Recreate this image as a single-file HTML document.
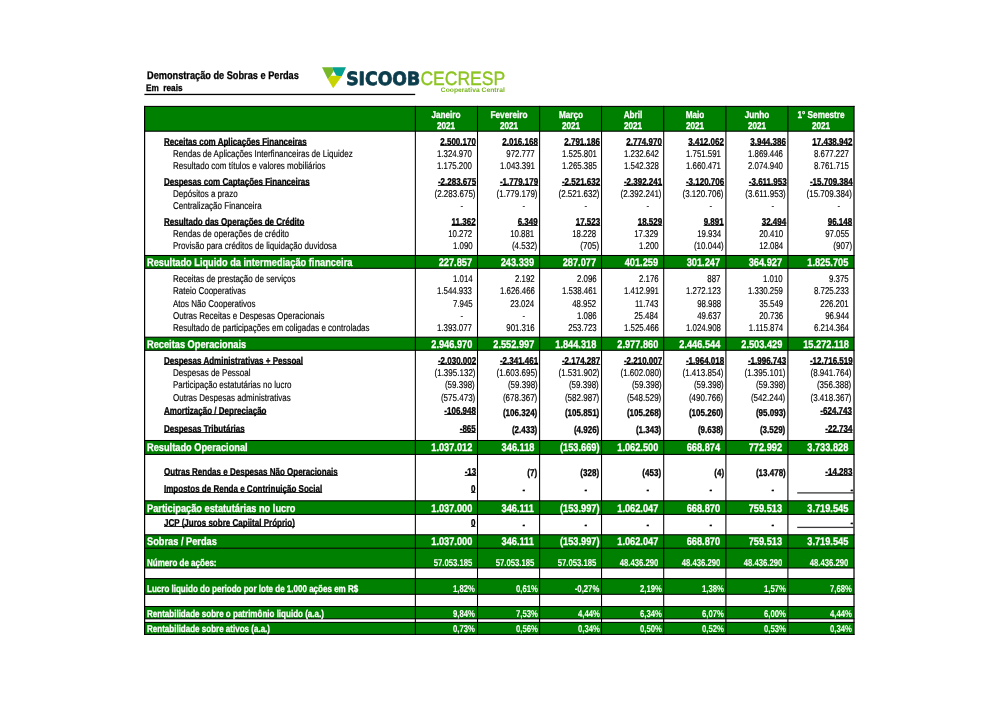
<!DOCTYPE html>
<html lang="pt-BR"><head><meta charset="utf-8"><title>Demonstração de Sobras e Perdas</title>
<style>
html,body{margin:0;padding:0;background:#fff}
body{width:1000px;height:707px;position:relative;overflow:hidden;font-family:"Liberation Sans",sans-serif;color:#000;text-rendering:geometricPrecision}
.b{position:absolute}
.t{position:absolute;white-space:nowrap;display:block;-webkit-text-stroke:0.15px currentColor}
.l{transform-origin:0 50%}
.r{transform-origin:100% 50%}
.c{transform-origin:50% 50%;text-align:center}
.bd{font-weight:bold;-webkit-text-stroke:0.3px currentColor}
.w{color:#fff}
.ns{-webkit-text-stroke:0.1px currentColor}
.u{text-decoration:underline;text-decoration-skip-ink:none;text-underline-offset:0px;text-decoration-thickness:1px;text-decoration-color:#2a2a2a}
</style></head><body>
<svg class="b" style="left:0;top:0" width="1000" height="707" viewBox="0 0 1000 707"><rect x="144.6" y="106.4" width="709.4" height="24.799999999999983" fill="#008000"/><rect x="144.6" y="255.5" width="709.4" height="12.800000000000011" fill="#008000"/><rect x="144.6" y="337.2" width="709.4" height="13.100000000000023" fill="#008000"/><rect x="144.6" y="440.5" width="709.4" height="13.899999999999977" fill="#008000"/><rect x="144.6" y="500.8" width="709.4" height="13.599999999999966" fill="#008000"/><rect x="144.6" y="534.8" width="709.4" height="13.400000000000091" fill="#008000"/><rect x="144.6" y="548.2" width="709.4" height="19.799999999999955" fill="#008000"/><rect x="144.6" y="578.6" width="709.4" height="15.699999999999932" fill="#008000"/><rect x="144.6" y="606.5" width="709.4" height="12.299999999999955" fill="#008000"/><rect x="144.6" y="622.4" width="709.4" height="12.0" fill="#008000"/><rect x="144.075" y="105.88" width="710.4499999999999" height="1.05" fill="#000"/><rect x="144.075" y="130.67" width="710.4499999999999" height="1.05" fill="#000"/><rect x="144.075" y="254.97" width="710.4499999999999" height="1.05" fill="#000"/><rect x="144.075" y="267.78" width="710.4499999999999" height="1.05" fill="#000"/><rect x="144.075" y="336.68" width="710.4499999999999" height="1.05" fill="#000"/><rect x="144.075" y="349.78" width="710.4499999999999" height="1.05" fill="#000"/><rect x="144.075" y="439.98" width="710.4499999999999" height="1.05" fill="#000"/><rect x="144.075" y="453.88" width="710.4499999999999" height="1.05" fill="#000"/><rect x="144.075" y="500.28" width="710.4499999999999" height="1.05" fill="#000"/><rect x="144.075" y="513.88" width="710.4499999999999" height="1.05" fill="#000"/><rect x="144.075" y="534.27" width="710.4499999999999" height="1.05" fill="#000"/><rect x="144.075" y="547.68" width="710.4499999999999" height="1.05" fill="#000"/><rect x="144.075" y="567.48" width="710.4499999999999" height="1.05" fill="#000"/><rect x="144.075" y="578.08" width="710.4499999999999" height="1.05" fill="#000"/><rect x="144.075" y="593.77" width="710.4499999999999" height="1.05" fill="#000"/><rect x="144.075" y="605.98" width="710.4499999999999" height="1.05" fill="#000"/><rect x="144.075" y="618.27" width="710.4499999999999" height="1.05" fill="#000"/><rect x="144.075" y="621.88" width="710.4499999999999" height="1.05" fill="#000"/><rect x="144.075" y="633.88" width="710.4499999999999" height="1.05" fill="#000"/><rect x="144.00" y="105.88" width="1.2" height="529.05" fill="#000"/><rect x="414.83" y="105.88" width="1.05" height="529.05" fill="#000"/><rect x="476.98" y="105.88" width="1.05" height="529.05" fill="#000"/><rect x="539.08" y="105.88" width="1.05" height="529.05" fill="#000"/><rect x="601.02" y="105.88" width="1.05" height="529.05" fill="#000"/><rect x="663.18" y="105.88" width="1.05" height="529.05" fill="#000"/><rect x="725.38" y="105.88" width="1.05" height="529.05" fill="#000"/><rect x="787.38" y="105.88" width="1.05" height="529.05" fill="#000"/><rect x="853.40" y="105.88" width="1.2" height="529.05" fill="#000"/></svg>
<span class="t l bd" style="left:147px;top:69.75px;font-size:11.1px;line-height:13px;transform:scaleX(0.829)">Demonstração de Sobras e Perdas</span>
<span class="t l bd" style="left:146px;top:82.81px;font-size:9.5px;line-height:12px;transform:scaleX(0.865)">Em&nbsp; reais</span>
<svg class="b" style="left:0;top:90px" width="1000" height="8" viewBox="0 90 1000 8"><rect x="144.4" y="93.8" width="270.8" height="1.3" fill="#000"/></svg>
<span class="t c bd w" style="left:346.425px;width:200px;top:109.67px;font-size:9.9px;line-height:12px;transform:scaleX(0.83)">Janeiro</span>
<span class="t c bd w" style="left:346.425px;width:200px;top:121.47px;font-size:9.9px;line-height:12px;transform:scaleX(0.83)">2021</span>
<span class="t c bd w" style="left:408.55px;width:200px;top:109.67px;font-size:9.9px;line-height:12px;transform:scaleX(0.83)">Fevereiro</span>
<span class="t c bd w" style="left:408.55px;width:200px;top:121.47px;font-size:9.9px;line-height:12px;transform:scaleX(0.83)">2021</span>
<span class="t c bd w" style="left:470.57500000000005px;width:200px;top:109.67px;font-size:9.9px;line-height:12px;transform:scaleX(0.83)">Março</span>
<span class="t c bd w" style="left:470.57500000000005px;width:200px;top:121.47px;font-size:9.9px;line-height:12px;transform:scaleX(0.83)">2021</span>
<span class="t c bd w" style="left:532.625px;width:200px;top:109.67px;font-size:9.9px;line-height:12px;transform:scaleX(0.83)">Abril</span>
<span class="t c bd w" style="left:532.625px;width:200px;top:121.47px;font-size:9.9px;line-height:12px;transform:scaleX(0.83)">2021</span>
<span class="t c bd w" style="left:594.8px;width:200px;top:109.67px;font-size:9.9px;line-height:12px;transform:scaleX(0.83)">Maio</span>
<span class="t c bd w" style="left:594.8px;width:200px;top:121.47px;font-size:9.9px;line-height:12px;transform:scaleX(0.83)">2021</span>
<span class="t c bd w" style="left:656.9px;width:200px;top:109.67px;font-size:9.9px;line-height:12px;transform:scaleX(0.83)">Junho</span>
<span class="t c bd w" style="left:656.9px;width:200px;top:121.47px;font-size:9.9px;line-height:12px;transform:scaleX(0.83)">2021</span>
<span class="t c bd w" style="left:720.95px;width:200px;top:109.67px;font-size:9.9px;line-height:12px;transform:scaleX(0.83)">1° Semestre</span>
<span class="t c bd w" style="left:720.95px;width:200px;top:121.47px;font-size:9.9px;line-height:12px;transform:scaleX(0.83)">2021</span>
<span class="t l bd w" style="left:147.2px;top:257.15px;font-size:11.1px;line-height:13px;transform:scaleX(0.833)">Resultado Liquido da intermediação financeira</span>
<span class="t r bd w" style="right:528.00px;top:257.15px;font-size:11.1px;line-height:13px;transform:scaleX(0.833)">227.857</span>
<span class="t r bd w" style="right:465.90px;top:257.15px;font-size:11.1px;line-height:13px;transform:scaleX(0.833)">243.339</span>
<span class="t r bd w" style="right:403.95px;top:257.15px;font-size:11.1px;line-height:13px;transform:scaleX(0.833)">287.077</span>
<span class="t r bd w" style="right:341.80px;top:257.15px;font-size:11.1px;line-height:13px;transform:scaleX(0.833)">401.259</span>
<span class="t r bd w" style="right:279.60px;top:257.15px;font-size:11.1px;line-height:13px;transform:scaleX(0.833)">301.247</span>
<span class="t r bd w" style="right:217.60px;top:257.15px;font-size:11.1px;line-height:13px;transform:scaleX(0.833)">364.927</span>
<span class="t r bd w" style="right:151.50px;top:257.15px;font-size:11.1px;line-height:13px;transform:scaleX(0.833)">1.825.705</span>
<span class="t l bd w" style="left:147.2px;top:339.15px;font-size:11.1px;line-height:13px;transform:scaleX(0.833)">Receitas Operacionais</span>
<span class="t r bd w" style="right:528.00px;top:339.15px;font-size:11.1px;line-height:13px;transform:scaleX(0.833)">2.946.970</span>
<span class="t r bd w" style="right:465.90px;top:339.15px;font-size:11.1px;line-height:13px;transform:scaleX(0.833)">2.552.997</span>
<span class="t r bd w" style="right:403.95px;top:339.15px;font-size:11.1px;line-height:13px;transform:scaleX(0.833)">1.844.318</span>
<span class="t r bd w" style="right:341.80px;top:339.15px;font-size:11.1px;line-height:13px;transform:scaleX(0.833)">2.977.860</span>
<span class="t r bd w" style="right:279.60px;top:339.15px;font-size:11.1px;line-height:13px;transform:scaleX(0.833)">2.446.544</span>
<span class="t r bd w" style="right:217.60px;top:339.15px;font-size:11.1px;line-height:13px;transform:scaleX(0.833)">2.503.429</span>
<span class="t r bd w" style="right:151.50px;top:339.15px;font-size:11.1px;line-height:13px;transform:scaleX(0.833)">15.272.118</span>
<span class="t l bd w" style="left:147.2px;top:441.55px;font-size:11.1px;line-height:13px;transform:scaleX(0.833)">Resultado Operacional</span>
<span class="t r bd w" style="right:528.00px;top:441.55px;font-size:11.1px;line-height:13px;transform:scaleX(0.833)">1.037.012</span>
<span class="t r bd w" style="right:465.90px;top:441.55px;font-size:11.1px;line-height:13px;transform:scaleX(0.833)">346.118</span>
<span class="t r bd w" style="right:400.95px;top:441.55px;font-size:11.1px;line-height:13px;transform:scaleX(0.833)">(153.669)</span>
<span class="t r bd w" style="right:341.80px;top:441.55px;font-size:11.1px;line-height:13px;transform:scaleX(0.833)">1.062.500</span>
<span class="t r bd w" style="right:279.60px;top:441.55px;font-size:11.1px;line-height:13px;transform:scaleX(0.833)">668.874</span>
<span class="t r bd w" style="right:217.60px;top:441.55px;font-size:11.1px;line-height:13px;transform:scaleX(0.833)">772.992</span>
<span class="t r bd w" style="right:151.50px;top:441.55px;font-size:11.1px;line-height:13px;transform:scaleX(0.833)">3.733.828</span>
<span class="t l bd w" style="left:147.2px;top:502.85px;font-size:11.1px;line-height:13px;transform:scaleX(0.833)">Participação estatutárias no lucro</span>
<span class="t r bd w" style="right:528.00px;top:502.85px;font-size:11.1px;line-height:13px;transform:scaleX(0.833)">1.037.000</span>
<span class="t r bd w" style="right:465.90px;top:502.85px;font-size:11.1px;line-height:13px;transform:scaleX(0.833)">346.111</span>
<span class="t r bd w" style="right:400.95px;top:502.85px;font-size:11.1px;line-height:13px;transform:scaleX(0.833)">(153.997)</span>
<span class="t r bd w" style="right:341.80px;top:502.85px;font-size:11.1px;line-height:13px;transform:scaleX(0.833)">1.062.047</span>
<span class="t r bd w" style="right:279.60px;top:502.85px;font-size:11.1px;line-height:13px;transform:scaleX(0.833)">668.870</span>
<span class="t r bd w" style="right:217.60px;top:502.85px;font-size:11.1px;line-height:13px;transform:scaleX(0.833)">759.513</span>
<span class="t r bd w" style="right:151.50px;top:502.85px;font-size:11.1px;line-height:13px;transform:scaleX(0.833)">3.719.545</span>
<span class="t l bd w" style="left:147.2px;top:535.75px;font-size:11.1px;line-height:13px;transform:scaleX(0.833)">Sobras / Perdas</span>
<span class="t r bd w" style="right:528.00px;top:535.75px;font-size:11.1px;line-height:13px;transform:scaleX(0.833)">1.037.000</span>
<span class="t r bd w" style="right:465.90px;top:535.75px;font-size:11.1px;line-height:13px;transform:scaleX(0.833)">346.111</span>
<span class="t r bd w" style="right:400.95px;top:535.75px;font-size:11.1px;line-height:13px;transform:scaleX(0.833)">(153.997)</span>
<span class="t r bd w" style="right:341.80px;top:535.75px;font-size:11.1px;line-height:13px;transform:scaleX(0.833)">1.062.047</span>
<span class="t r bd w" style="right:279.60px;top:535.75px;font-size:11.1px;line-height:13px;transform:scaleX(0.833)">668.870</span>
<span class="t r bd w" style="right:217.60px;top:535.75px;font-size:11.1px;line-height:13px;transform:scaleX(0.833)">759.513</span>
<span class="t r bd w" style="right:151.50px;top:535.75px;font-size:11.1px;line-height:13px;transform:scaleX(0.833)">3.719.545</span>
<span class="t l bd w" style="left:146.5px;top:557.07px;font-size:9.9px;line-height:13px;transform:scaleX(0.812)">Número de ações:</span>
<span class="t r bd w ns" style="right:528.00px;top:557.07px;font-size:9.9px;line-height:13px;transform:scaleX(0.78358)">57.053.185</span>
<span class="t r bd w ns" style="right:465.90px;top:557.07px;font-size:9.9px;line-height:13px;transform:scaleX(0.78358)">57.053.185</span>
<span class="t r bd w ns" style="right:403.95px;top:557.07px;font-size:9.9px;line-height:13px;transform:scaleX(0.78358)">57.053.185</span>
<span class="t r bd w ns" style="right:341.80px;top:557.07px;font-size:9.9px;line-height:13px;transform:scaleX(0.78358)">48.436.290</span>
<span class="t r bd w ns" style="right:279.60px;top:557.07px;font-size:9.9px;line-height:13px;transform:scaleX(0.78358)">48.436.290</span>
<span class="t r bd w ns" style="right:217.60px;top:557.07px;font-size:9.9px;line-height:13px;transform:scaleX(0.78358)">48.436.290</span>
<span class="t r bd w ns" style="right:151.50px;top:557.07px;font-size:9.9px;line-height:13px;transform:scaleX(0.78358)">48.436.290</span>
<span class="t l bd w" style="left:146.5px;top:583.37px;font-size:9.9px;line-height:13px;transform:scaleX(0.812)">Lucro liquido do periodo por lote de 1.000 ações em R$</span>
<span class="t r bd w ns" style="right:524.50px;top:583.37px;font-size:9.9px;line-height:13px;transform:scaleX(0.78358)">1,82%</span>
<span class="t r bd w ns" style="right:462.40px;top:583.37px;font-size:9.9px;line-height:13px;transform:scaleX(0.78358)">0,61%</span>
<span class="t r bd w ns" style="right:400.45px;top:583.37px;font-size:9.9px;line-height:13px;transform:scaleX(0.78358)">-0,27%</span>
<span class="t r bd w ns" style="right:338.30px;top:583.37px;font-size:9.9px;line-height:13px;transform:scaleX(0.78358)">2,19%</span>
<span class="t r bd w ns" style="right:276.10px;top:583.37px;font-size:9.9px;line-height:13px;transform:scaleX(0.78358)">1,38%</span>
<span class="t r bd w ns" style="right:214.10px;top:583.37px;font-size:9.9px;line-height:13px;transform:scaleX(0.78358)">1,57%</span>
<span class="t r bd w ns" style="right:148.00px;top:583.37px;font-size:9.9px;line-height:13px;transform:scaleX(0.78358)">7,68%</span>
<span class="t l bd w" style="left:146.5px;top:608.37px;font-size:9.9px;line-height:13px;transform:scaleX(0.812)">Rentabilidade sobre o patrimônio liquido (a.a.)</span>
<span class="t r bd w ns" style="right:524.50px;top:608.37px;font-size:9.9px;line-height:13px;transform:scaleX(0.78358)">9,84%</span>
<span class="t r bd w ns" style="right:462.40px;top:608.37px;font-size:9.9px;line-height:13px;transform:scaleX(0.78358)">7,53%</span>
<span class="t r bd w ns" style="right:400.45px;top:608.37px;font-size:9.9px;line-height:13px;transform:scaleX(0.78358)">4,44%</span>
<span class="t r bd w ns" style="right:338.30px;top:608.37px;font-size:9.9px;line-height:13px;transform:scaleX(0.78358)">6,34%</span>
<span class="t r bd w ns" style="right:276.10px;top:608.37px;font-size:9.9px;line-height:13px;transform:scaleX(0.78358)">6,07%</span>
<span class="t r bd w ns" style="right:214.10px;top:608.37px;font-size:9.9px;line-height:13px;transform:scaleX(0.78358)">6,00%</span>
<span class="t r bd w ns" style="right:148.00px;top:608.37px;font-size:9.9px;line-height:13px;transform:scaleX(0.78358)">4,44%</span>
<span class="t l bd w" style="left:146.5px;top:623.37px;font-size:9.9px;line-height:13px;transform:scaleX(0.812)">Rentabilidade sobre ativos (a.a.)</span>
<span class="t r bd w ns" style="right:524.50px;top:623.37px;font-size:9.9px;line-height:13px;transform:scaleX(0.78358)">0,73%</span>
<span class="t r bd w ns" style="right:462.40px;top:623.37px;font-size:9.9px;line-height:13px;transform:scaleX(0.78358)">0,56%</span>
<span class="t r bd w ns" style="right:400.45px;top:623.37px;font-size:9.9px;line-height:13px;transform:scaleX(0.78358)">0,34%</span>
<span class="t r bd w ns" style="right:338.30px;top:623.37px;font-size:9.9px;line-height:13px;transform:scaleX(0.78358)">0,50%</span>
<span class="t r bd w ns" style="right:276.10px;top:623.37px;font-size:9.9px;line-height:13px;transform:scaleX(0.78358)">0,52%</span>
<span class="t r bd w ns" style="right:214.10px;top:623.37px;font-size:9.9px;line-height:13px;transform:scaleX(0.78358)">0,53%</span>
<span class="t r bd w ns" style="right:148.00px;top:623.37px;font-size:9.9px;line-height:13px;transform:scaleX(0.78358)">0,34%</span>
<span class="t l bd u" style="left:164.2px;top:137.07px;font-size:9.9px;line-height:12px;transform:scaleX(0.812)">Receitas com Aplicações Financeiras</span>
<span class="t r bd u" style="right:524.20px;top:137.07px;font-size:9.9px;line-height:12px;transform:scaleX(0.812)">2.500.170</span>
<span class="t r bd u" style="right:462.10px;top:137.07px;font-size:9.9px;line-height:12px;transform:scaleX(0.812)">2.016.168</span>
<span class="t r bd u" style="right:400.15px;top:137.07px;font-size:9.9px;line-height:12px;transform:scaleX(0.812)">2.791.186</span>
<span class="t r bd u" style="right:338.00px;top:137.07px;font-size:9.9px;line-height:12px;transform:scaleX(0.812)">2.774.970</span>
<span class="t r bd u" style="right:275.80px;top:137.07px;font-size:9.9px;line-height:12px;transform:scaleX(0.812)">3.412.062</span>
<span class="t r bd u" style="right:213.80px;top:137.07px;font-size:9.9px;line-height:12px;transform:scaleX(0.812)">3.944.386</span>
<span class="t r bd u" style="right:147.70px;top:137.07px;font-size:9.9px;line-height:12px;transform:scaleX(0.812)">17.438.942</span>
<span class="t l " style="left:173px;top:149.07px;font-size:9.9px;line-height:12px;transform:scaleX(0.812)">Rendas de Aplicações Interfinanceiras de Liquidez</span>
<span class="t r " style="right:527.60px;top:149.07px;font-size:9.9px;line-height:12px;transform:scaleX(0.79576)">1.324.970</span>
<span class="t r " style="right:465.50px;top:149.07px;font-size:9.9px;line-height:12px;transform:scaleX(0.79576)">972.777</span>
<span class="t r " style="right:403.55px;top:149.07px;font-size:9.9px;line-height:12px;transform:scaleX(0.79576)">1.525.801</span>
<span class="t r " style="right:341.40px;top:149.07px;font-size:9.9px;line-height:12px;transform:scaleX(0.79576)">1.232.642</span>
<span class="t r " style="right:279.20px;top:149.07px;font-size:9.9px;line-height:12px;transform:scaleX(0.79576)">1.751.591</span>
<span class="t r " style="right:217.20px;top:149.07px;font-size:9.9px;line-height:12px;transform:scaleX(0.79576)">1.869.446</span>
<span class="t r " style="right:151.10px;top:149.07px;font-size:9.9px;line-height:12px;transform:scaleX(0.79576)">8.677.227</span>
<span class="t l " style="left:173px;top:161.07px;font-size:9.9px;line-height:12px;transform:scaleX(0.812)">Resultado com títulos e valores mobiliários</span>
<span class="t r " style="right:527.60px;top:161.07px;font-size:9.9px;line-height:12px;transform:scaleX(0.79576)">1.175.200</span>
<span class="t r " style="right:465.50px;top:161.07px;font-size:9.9px;line-height:12px;transform:scaleX(0.79576)">1.043.391</span>
<span class="t r " style="right:403.55px;top:161.07px;font-size:9.9px;line-height:12px;transform:scaleX(0.79576)">1.265.385</span>
<span class="t r " style="right:341.40px;top:161.07px;font-size:9.9px;line-height:12px;transform:scaleX(0.79576)">1.542.328</span>
<span class="t r " style="right:279.20px;top:161.07px;font-size:9.9px;line-height:12px;transform:scaleX(0.79576)">1.660.471</span>
<span class="t r " style="right:217.20px;top:161.07px;font-size:9.9px;line-height:12px;transform:scaleX(0.79576)">2.074.940</span>
<span class="t r " style="right:151.10px;top:161.07px;font-size:9.9px;line-height:12px;transform:scaleX(0.79576)">8.761.715</span>
<span class="t l bd u" style="left:164.2px;top:177.07px;font-size:9.9px;line-height:12px;transform:scaleX(0.812)">Despesas com Captações Financeiras</span>
<span class="t r bd u" style="right:524.20px;top:177.07px;font-size:9.9px;line-height:12px;transform:scaleX(0.812)">-2.283.675</span>
<span class="t r bd u" style="right:462.10px;top:177.07px;font-size:9.9px;line-height:12px;transform:scaleX(0.812)">-1.779.179</span>
<span class="t r bd u" style="right:400.15px;top:177.07px;font-size:9.9px;line-height:12px;transform:scaleX(0.812)">-2.521.632</span>
<span class="t r bd u" style="right:338.00px;top:177.07px;font-size:9.9px;line-height:12px;transform:scaleX(0.812)">-2.392.241</span>
<span class="t r bd u" style="right:275.80px;top:177.07px;font-size:9.9px;line-height:12px;transform:scaleX(0.812)">-3.120.706</span>
<span class="t r bd u" style="right:213.80px;top:177.07px;font-size:9.9px;line-height:12px;transform:scaleX(0.812)">-3.611.953</span>
<span class="t r bd u" style="right:147.70px;top:177.07px;font-size:9.9px;line-height:12px;transform:scaleX(0.812)">-15.709.384</span>
<span class="t l " style="left:173px;top:189.07px;font-size:9.9px;line-height:12px;transform:scaleX(0.812)">Depósitos a prazo</span>
<span class="t r " style="right:524.80px;top:189.07px;font-size:9.9px;line-height:12px;transform:scaleX(0.812)">(2.283.675)</span>
<span class="t r " style="right:462.70px;top:189.07px;font-size:9.9px;line-height:12px;transform:scaleX(0.812)">(1.779.179)</span>
<span class="t r " style="right:400.75px;top:189.07px;font-size:9.9px;line-height:12px;transform:scaleX(0.812)">(2.521.632)</span>
<span class="t r " style="right:338.60px;top:189.07px;font-size:9.9px;line-height:12px;transform:scaleX(0.812)">(2.392.241)</span>
<span class="t r " style="right:276.40px;top:189.07px;font-size:9.9px;line-height:12px;transform:scaleX(0.812)">(3.120.706)</span>
<span class="t r " style="right:214.40px;top:189.07px;font-size:9.9px;line-height:12px;transform:scaleX(0.812)">(3.611.953)</span>
<span class="t r " style="right:148.30px;top:189.07px;font-size:9.9px;line-height:12px;transform:scaleX(0.812)">(15.709.384)</span>
<span class="t l " style="left:173px;top:201.07px;font-size:9.9px;line-height:12px;transform:scaleX(0.812)">Centralização Financeira</span>
<span class="t r " style="right:536.50px;top:201.07px;font-size:9.9px;line-height:12px;transform:scaleX(0.812)">-</span>
<span class="t r " style="right:474.40px;top:201.07px;font-size:9.9px;line-height:12px;transform:scaleX(0.812)">-</span>
<span class="t r " style="right:412.45px;top:201.07px;font-size:9.9px;line-height:12px;transform:scaleX(0.812)">-</span>
<span class="t r " style="right:350.30px;top:201.07px;font-size:9.9px;line-height:12px;transform:scaleX(0.812)">-</span>
<span class="t r " style="right:288.10px;top:201.07px;font-size:9.9px;line-height:12px;transform:scaleX(0.812)">-</span>
<span class="t r " style="right:226.10px;top:201.07px;font-size:9.9px;line-height:12px;transform:scaleX(0.812)">-</span>
<span class="t r " style="right:160.00px;top:201.07px;font-size:9.9px;line-height:12px;transform:scaleX(0.812)">-</span>
<span class="t l bd u" style="left:164.2px;top:217.07px;font-size:9.9px;line-height:12px;transform:scaleX(0.812)">Resultado das Operações de Crédito</span>
<span class="t r bd u" style="right:524.20px;top:217.07px;font-size:9.9px;line-height:12px;transform:scaleX(0.812)">11.362</span>
<span class="t r bd u" style="right:462.10px;top:217.07px;font-size:9.9px;line-height:12px;transform:scaleX(0.812)">6.349</span>
<span class="t r bd u" style="right:400.15px;top:217.07px;font-size:9.9px;line-height:12px;transform:scaleX(0.812)">17.523</span>
<span class="t r bd u" style="right:338.00px;top:217.07px;font-size:9.9px;line-height:12px;transform:scaleX(0.812)">18.529</span>
<span class="t r bd u" style="right:275.80px;top:217.07px;font-size:9.9px;line-height:12px;transform:scaleX(0.812)">9.891</span>
<span class="t r bd u" style="right:213.80px;top:217.07px;font-size:9.9px;line-height:12px;transform:scaleX(0.812)">32.494</span>
<span class="t r bd u" style="right:147.70px;top:217.07px;font-size:9.9px;line-height:12px;transform:scaleX(0.812)">96.148</span>
<span class="t l " style="left:173px;top:229.07px;font-size:9.9px;line-height:12px;transform:scaleX(0.812)">Rendas de operações de crédito</span>
<span class="t r " style="right:527.60px;top:229.07px;font-size:9.9px;line-height:12px;transform:scaleX(0.79576)">10.272</span>
<span class="t r " style="right:465.50px;top:229.07px;font-size:9.9px;line-height:12px;transform:scaleX(0.79576)">10.881</span>
<span class="t r " style="right:403.55px;top:229.07px;font-size:9.9px;line-height:12px;transform:scaleX(0.79576)">18.228</span>
<span class="t r " style="right:341.40px;top:229.07px;font-size:9.9px;line-height:12px;transform:scaleX(0.79576)">17.329</span>
<span class="t r " style="right:279.20px;top:229.07px;font-size:9.9px;line-height:12px;transform:scaleX(0.79576)">19.934</span>
<span class="t r " style="right:217.20px;top:229.07px;font-size:9.9px;line-height:12px;transform:scaleX(0.79576)">20.410</span>
<span class="t r " style="right:151.10px;top:229.07px;font-size:9.9px;line-height:12px;transform:scaleX(0.79576)">97.055</span>
<span class="t l " style="left:173px;top:241.07px;font-size:9.9px;line-height:12px;transform:scaleX(0.812)">Provisão para créditos de liquidação duvidosa</span>
<span class="t r " style="right:527.60px;top:241.07px;font-size:9.9px;line-height:12px;transform:scaleX(0.79576)">1.090</span>
<span class="t r " style="right:462.70px;top:241.07px;font-size:9.9px;line-height:12px;transform:scaleX(0.812)">(4.532)</span>
<span class="t r " style="right:400.75px;top:241.07px;font-size:9.9px;line-height:12px;transform:scaleX(0.812)">(705)</span>
<span class="t r " style="right:341.40px;top:241.07px;font-size:9.9px;line-height:12px;transform:scaleX(0.79576)">1.200</span>
<span class="t r " style="right:276.40px;top:241.07px;font-size:9.9px;line-height:12px;transform:scaleX(0.812)">(10.044)</span>
<span class="t r " style="right:217.20px;top:241.07px;font-size:9.9px;line-height:12px;transform:scaleX(0.79576)">12.084</span>
<span class="t r " style="right:148.30px;top:241.07px;font-size:9.9px;line-height:12px;transform:scaleX(0.812)">(907)</span>
<span class="t l " style="left:173px;top:274.07px;font-size:9.9px;line-height:12px;transform:scaleX(0.812)">Receitas de prestação de serviços</span>
<span class="t r " style="right:527.60px;top:274.07px;font-size:9.9px;line-height:12px;transform:scaleX(0.79576)">1.014</span>
<span class="t r " style="right:465.50px;top:274.07px;font-size:9.9px;line-height:12px;transform:scaleX(0.79576)">2.192</span>
<span class="t r " style="right:403.55px;top:274.07px;font-size:9.9px;line-height:12px;transform:scaleX(0.79576)">2.096</span>
<span class="t r " style="right:341.40px;top:274.07px;font-size:9.9px;line-height:12px;transform:scaleX(0.79576)">2.176</span>
<span class="t r " style="right:279.20px;top:274.07px;font-size:9.9px;line-height:12px;transform:scaleX(0.79576)">887</span>
<span class="t r " style="right:217.20px;top:274.07px;font-size:9.9px;line-height:12px;transform:scaleX(0.79576)">1.010</span>
<span class="t r " style="right:151.10px;top:274.07px;font-size:9.9px;line-height:12px;transform:scaleX(0.79576)">9.375</span>
<span class="t l " style="left:173px;top:286.07px;font-size:9.9px;line-height:12px;transform:scaleX(0.812)">Rateio Cooperativas</span>
<span class="t r " style="right:527.60px;top:286.07px;font-size:9.9px;line-height:12px;transform:scaleX(0.79576)">1.544.933</span>
<span class="t r " style="right:465.50px;top:286.07px;font-size:9.9px;line-height:12px;transform:scaleX(0.79576)">1.626.466</span>
<span class="t r " style="right:403.55px;top:286.07px;font-size:9.9px;line-height:12px;transform:scaleX(0.79576)">1.538.461</span>
<span class="t r " style="right:341.40px;top:286.07px;font-size:9.9px;line-height:12px;transform:scaleX(0.79576)">1.412.991</span>
<span class="t r " style="right:279.20px;top:286.07px;font-size:9.9px;line-height:12px;transform:scaleX(0.79576)">1.272.123</span>
<span class="t r " style="right:217.20px;top:286.07px;font-size:9.9px;line-height:12px;transform:scaleX(0.79576)">1.330.259</span>
<span class="t r " style="right:151.10px;top:286.07px;font-size:9.9px;line-height:12px;transform:scaleX(0.79576)">8.725.233</span>
<span class="t l " style="left:173px;top:298.57px;font-size:9.9px;line-height:12px;transform:scaleX(0.812)">Atos Não Cooperativos</span>
<span class="t r " style="right:527.60px;top:298.57px;font-size:9.9px;line-height:12px;transform:scaleX(0.79576)">7.945</span>
<span class="t r " style="right:465.50px;top:298.57px;font-size:9.9px;line-height:12px;transform:scaleX(0.79576)">23.024</span>
<span class="t r " style="right:403.55px;top:298.57px;font-size:9.9px;line-height:12px;transform:scaleX(0.79576)">48.952</span>
<span class="t r " style="right:341.40px;top:298.57px;font-size:9.9px;line-height:12px;transform:scaleX(0.79576)">11.743</span>
<span class="t r " style="right:279.20px;top:298.57px;font-size:9.9px;line-height:12px;transform:scaleX(0.79576)">98.988</span>
<span class="t r " style="right:217.20px;top:298.57px;font-size:9.9px;line-height:12px;transform:scaleX(0.79576)">35.549</span>
<span class="t r " style="right:151.10px;top:298.57px;font-size:9.9px;line-height:12px;transform:scaleX(0.79576)">226.201</span>
<span class="t l " style="left:173px;top:310.57px;font-size:9.9px;line-height:12px;transform:scaleX(0.812)">Outras Receitas e Despesas Operacionais</span>
<span class="t r " style="right:536.50px;top:310.57px;font-size:9.9px;line-height:12px;transform:scaleX(0.812)">-</span>
<span class="t r " style="right:474.40px;top:310.57px;font-size:9.9px;line-height:12px;transform:scaleX(0.812)">-</span>
<span class="t r " style="right:403.55px;top:310.57px;font-size:9.9px;line-height:12px;transform:scaleX(0.79576)">1.086</span>
<span class="t r " style="right:341.40px;top:310.57px;font-size:9.9px;line-height:12px;transform:scaleX(0.79576)">25.484</span>
<span class="t r " style="right:279.20px;top:310.57px;font-size:9.9px;line-height:12px;transform:scaleX(0.79576)">49.637</span>
<span class="t r " style="right:217.20px;top:310.57px;font-size:9.9px;line-height:12px;transform:scaleX(0.79576)">20.736</span>
<span class="t r " style="right:151.10px;top:310.57px;font-size:9.9px;line-height:12px;transform:scaleX(0.79576)">96.944</span>
<span class="t l " style="left:173px;top:322.67px;font-size:9.9px;line-height:12px;transform:scaleX(0.812)">Resultado de participações em coligadas e controladas</span>
<span class="t r " style="right:527.60px;top:322.67px;font-size:9.9px;line-height:12px;transform:scaleX(0.79576)">1.393.077</span>
<span class="t r " style="right:465.50px;top:322.67px;font-size:9.9px;line-height:12px;transform:scaleX(0.79576)">901.316</span>
<span class="t r " style="right:403.55px;top:322.67px;font-size:9.9px;line-height:12px;transform:scaleX(0.79576)">253.723</span>
<span class="t r " style="right:341.40px;top:322.67px;font-size:9.9px;line-height:12px;transform:scaleX(0.79576)">1.525.466</span>
<span class="t r " style="right:279.20px;top:322.67px;font-size:9.9px;line-height:12px;transform:scaleX(0.79576)">1.024.908</span>
<span class="t r " style="right:217.20px;top:322.67px;font-size:9.9px;line-height:12px;transform:scaleX(0.79576)">1.115.874</span>
<span class="t r " style="right:151.10px;top:322.67px;font-size:9.9px;line-height:12px;transform:scaleX(0.79576)">6.214.364</span>
<span class="t l bd u" style="left:164.2px;top:356.07px;font-size:9.9px;line-height:12px;transform:scaleX(0.812)">Despesas Administrativas + Pessoal</span>
<span class="t r bd u" style="right:524.20px;top:356.07px;font-size:9.9px;line-height:12px;transform:scaleX(0.812)">-2.030.002</span>
<span class="t r bd u" style="right:462.10px;top:356.07px;font-size:9.9px;line-height:12px;transform:scaleX(0.812)">-2.341.461</span>
<span class="t r bd u" style="right:400.15px;top:356.07px;font-size:9.9px;line-height:12px;transform:scaleX(0.812)">-2.174.287</span>
<span class="t r bd u" style="right:338.00px;top:356.07px;font-size:9.9px;line-height:12px;transform:scaleX(0.812)">-2.210.007</span>
<span class="t r bd u" style="right:275.80px;top:356.07px;font-size:9.9px;line-height:12px;transform:scaleX(0.812)">-1.964.018</span>
<span class="t r bd u" style="right:213.80px;top:356.07px;font-size:9.9px;line-height:12px;transform:scaleX(0.812)">-1.996.743</span>
<span class="t r bd u" style="right:147.70px;top:356.07px;font-size:9.9px;line-height:12px;transform:scaleX(0.812)">-12.716.519</span>
<span class="t l " style="left:173px;top:368.07px;font-size:9.9px;line-height:12px;transform:scaleX(0.812)">Despesas de Pessoal</span>
<span class="t r " style="right:524.80px;top:368.07px;font-size:9.9px;line-height:12px;transform:scaleX(0.812)">(1.395.132)</span>
<span class="t r " style="right:462.70px;top:368.07px;font-size:9.9px;line-height:12px;transform:scaleX(0.812)">(1.603.695)</span>
<span class="t r " style="right:400.75px;top:368.07px;font-size:9.9px;line-height:12px;transform:scaleX(0.812)">(1.531.902)</span>
<span class="t r " style="right:338.60px;top:368.07px;font-size:9.9px;line-height:12px;transform:scaleX(0.812)">(1.602.080)</span>
<span class="t r " style="right:276.40px;top:368.07px;font-size:9.9px;line-height:12px;transform:scaleX(0.812)">(1.413.854)</span>
<span class="t r " style="right:214.40px;top:368.07px;font-size:9.9px;line-height:12px;transform:scaleX(0.812)">(1.395.101)</span>
<span class="t r " style="right:148.30px;top:368.07px;font-size:9.9px;line-height:12px;transform:scaleX(0.812)">(8.941.764)</span>
<span class="t l " style="left:173px;top:380.07px;font-size:9.9px;line-height:12px;transform:scaleX(0.812)">Participação estatutárias no lucro</span>
<span class="t r " style="right:524.80px;top:380.07px;font-size:9.9px;line-height:12px;transform:scaleX(0.812)">(59.398)</span>
<span class="t r " style="right:462.70px;top:380.07px;font-size:9.9px;line-height:12px;transform:scaleX(0.812)">(59.398)</span>
<span class="t r " style="right:400.75px;top:380.07px;font-size:9.9px;line-height:12px;transform:scaleX(0.812)">(59.398)</span>
<span class="t r " style="right:338.60px;top:380.07px;font-size:9.9px;line-height:12px;transform:scaleX(0.812)">(59.398)</span>
<span class="t r " style="right:276.40px;top:380.07px;font-size:9.9px;line-height:12px;transform:scaleX(0.812)">(59.398)</span>
<span class="t r " style="right:214.40px;top:380.07px;font-size:9.9px;line-height:12px;transform:scaleX(0.812)">(59.398)</span>
<span class="t r " style="right:148.30px;top:380.07px;font-size:9.9px;line-height:12px;transform:scaleX(0.812)">(356.388)</span>
<span class="t l " style="left:173px;top:393.07px;font-size:9.9px;line-height:12px;transform:scaleX(0.812)">Outras Despesas administrativas</span>
<span class="t r " style="right:524.80px;top:393.07px;font-size:9.9px;line-height:12px;transform:scaleX(0.812)">(575.473)</span>
<span class="t r " style="right:462.70px;top:393.07px;font-size:9.9px;line-height:12px;transform:scaleX(0.812)">(678.367)</span>
<span class="t r " style="right:400.75px;top:393.07px;font-size:9.9px;line-height:12px;transform:scaleX(0.812)">(582.987)</span>
<span class="t r " style="right:338.60px;top:393.07px;font-size:9.9px;line-height:12px;transform:scaleX(0.812)">(548.529)</span>
<span class="t r " style="right:276.40px;top:393.07px;font-size:9.9px;line-height:12px;transform:scaleX(0.812)">(490.766)</span>
<span class="t r " style="right:214.40px;top:393.07px;font-size:9.9px;line-height:12px;transform:scaleX(0.812)">(542.244)</span>
<span class="t r " style="right:148.30px;top:393.07px;font-size:9.9px;line-height:12px;transform:scaleX(0.812)">(3.418.367)</span>
<span class="t l bd u" style="left:164.2px;top:405.67px;font-size:9.9px;line-height:12px;transform:scaleX(0.812)">Amortização / Depreciação</span>
<span class="t r bd u" style="right:524.20px;top:405.67px;font-size:9.9px;line-height:12px;transform:scaleX(0.812)">-106.948</span>
<span class="t r bd" style="right:462.70px;top:408.07px;font-size:9.9px;line-height:12px;transform:scaleX(0.812)">(106.324)</span>
<span class="t r bd" style="right:400.75px;top:408.07px;font-size:9.9px;line-height:12px;transform:scaleX(0.812)">(105.851)</span>
<span class="t r bd" style="right:338.60px;top:408.07px;font-size:9.9px;line-height:12px;transform:scaleX(0.812)">(105.268)</span>
<span class="t r bd" style="right:276.40px;top:408.07px;font-size:9.9px;line-height:12px;transform:scaleX(0.812)">(105.260)</span>
<span class="t r bd" style="right:214.40px;top:408.07px;font-size:9.9px;line-height:12px;transform:scaleX(0.812)">(95.093)</span>
<span class="t r bd u" style="right:147.70px;top:405.67px;font-size:9.9px;line-height:12px;transform:scaleX(0.812)">-624.743</span>
<span class="t l bd u" style="left:164.2px;top:423.67px;font-size:9.9px;line-height:12px;transform:scaleX(0.812)">Despesas Tributárias</span>
<span class="t r bd u" style="right:524.20px;top:423.67px;font-size:9.9px;line-height:12px;transform:scaleX(0.812)">-865</span>
<span class="t r bd" style="right:462.70px;top:425.07px;font-size:9.9px;line-height:12px;transform:scaleX(0.812)">(2.433)</span>
<span class="t r bd" style="right:400.75px;top:425.07px;font-size:9.9px;line-height:12px;transform:scaleX(0.812)">(4.926)</span>
<span class="t r bd" style="right:338.60px;top:425.07px;font-size:9.9px;line-height:12px;transform:scaleX(0.812)">(1.343)</span>
<span class="t r bd" style="right:276.40px;top:425.07px;font-size:9.9px;line-height:12px;transform:scaleX(0.812)">(9.638)</span>
<span class="t r bd" style="right:214.40px;top:425.07px;font-size:9.9px;line-height:12px;transform:scaleX(0.812)">(3.529)</span>
<span class="t r bd u" style="right:147.70px;top:423.67px;font-size:9.9px;line-height:12px;transform:scaleX(0.812)">-22.734</span>
<span class="t l bd u" style="left:164.2px;top:467.07px;font-size:9.9px;line-height:12px;transform:scaleX(0.812)">Outras Rendas e Despesas Não Operacionais</span>
<span class="t r bd u" style="right:524.20px;top:467.07px;font-size:9.9px;line-height:12px;transform:scaleX(0.812)">-13</span>
<span class="t r bd" style="right:462.70px;top:467.97px;font-size:9.9px;line-height:12px;transform:scaleX(0.812)">(7)</span>
<span class="t r bd" style="right:400.75px;top:467.97px;font-size:9.9px;line-height:12px;transform:scaleX(0.812)">(328)</span>
<span class="t r bd" style="right:338.60px;top:467.97px;font-size:9.9px;line-height:12px;transform:scaleX(0.812)">(453)</span>
<span class="t r bd" style="right:276.40px;top:467.97px;font-size:9.9px;line-height:12px;transform:scaleX(0.812)">(4)</span>
<span class="t r bd" style="right:214.40px;top:467.97px;font-size:9.9px;line-height:12px;transform:scaleX(0.812)">(13.478)</span>
<span class="t r bd u" style="right:147.70px;top:467.07px;font-size:9.9px;line-height:12px;transform:scaleX(0.812)">-14.283</span>
<span class="t l bd u" style="left:164.2px;top:484.07px;font-size:9.9px;line-height:12px;transform:scaleX(0.812)">Impostos de Renda e Contrinuição Social</span>
<span class="t r bd u" style="right:524.20px;top:484.07px;font-size:9.9px;line-height:12px;transform:scaleX(0.812)">0</span>
<span class="t r bd" style="right:474.40px;top:484.77px;font-size:9.9px;line-height:12px;transform:scaleX(0.812)">-</span>
<span class="t r bd" style="right:412.45px;top:484.77px;font-size:9.9px;line-height:12px;transform:scaleX(0.812)">-</span>
<span class="t r bd" style="right:350.30px;top:484.77px;font-size:9.9px;line-height:12px;transform:scaleX(0.812)">-</span>
<span class="t r bd" style="right:288.10px;top:484.77px;font-size:9.9px;line-height:12px;transform:scaleX(0.812)">-</span>
<span class="t r bd" style="right:226.10px;top:484.77px;font-size:9.9px;line-height:12px;transform:scaleX(0.812)">-</span>
<span class="t r bd" style="right:147.00px;top:484.57px;font-size:9.9px;line-height:12px;transform:scaleX(0.812)">-</span>
<svg class="b" style="left:790px;top:489px" width="70" height="8" viewBox="790 489 70 8"><rect x="797.2" y="492.25" width="56.8" height="1.3" fill="#3a3a3a"/></svg>
<span class="t l bd u" style="left:164.2px;top:518.07px;font-size:9.9px;line-height:12px;transform:scaleX(0.812)">JCP (Juros sobre Capiital Próprio)</span>
<span class="t r bd u" style="right:524.20px;top:518.07px;font-size:9.9px;line-height:12px;transform:scaleX(0.812)">0</span>
<span class="t r bd" style="right:474.40px;top:519.67px;font-size:9.9px;line-height:12px;transform:scaleX(0.812)">-</span>
<span class="t r bd" style="right:412.45px;top:519.67px;font-size:9.9px;line-height:12px;transform:scaleX(0.812)">-</span>
<span class="t r bd" style="right:350.30px;top:519.67px;font-size:9.9px;line-height:12px;transform:scaleX(0.812)">-</span>
<span class="t r bd" style="right:288.10px;top:519.67px;font-size:9.9px;line-height:12px;transform:scaleX(0.812)">-</span>
<span class="t r bd" style="right:226.10px;top:519.67px;font-size:9.9px;line-height:12px;transform:scaleX(0.812)">-</span>
<span class="t r bd" style="right:147.00px;top:518.27px;font-size:9.9px;line-height:12px;transform:scaleX(0.812)">-</span>
<svg class="b" style="left:790px;top:524px" width="70" height="8" viewBox="790 524 70 8"><rect x="797.2" y="526.75" width="56.8" height="1.3" fill="#3a3a3a"/></svg>
<svg class="b" style="left:318px;top:60px" width="200" height="38" viewBox="318 60 200 38">
<polygon points="322,67.3 332.1,67.3 333.7,71 330.7,75.8 328,79.5" fill="#76b82a"/>
<polygon points="332.1,67.3 346,67.3 341.8,76.2 336.4,75.8 333.7,71" fill="#05a08f"/>
<polygon points="328,79.5 330.7,75.8 336.4,75.8 341.8,76.2 333.2,88.3" fill="#c8d400"/>
<text x="346.2" y="84.75" font-family="'DejaVu Sans','Liberation Sans',sans-serif" font-weight="bold" font-size="18.2" fill="#0c3d4c" stroke="#0c3d4c" stroke-width="0.8" stroke-linejoin="round" textLength="74" lengthAdjust="spacingAndGlyphs">SICOOB</text>
<text x="420.4" y="84.9" font-family="'Liberation Sans',sans-serif" font-size="19.3" fill="#8cc420" stroke="#8cc420" stroke-width="0.35" textLength="84.8" lengthAdjust="spacingAndGlyphs">CECRESP</text>
<text x="440.8" y="91.6" font-family="'Liberation Sans',sans-serif" font-weight="bold" font-size="6.6" fill="#78b41e" textLength="64" lengthAdjust="spacingAndGlyphs">Cooperativa Central</text>
</svg>
</body></html>
